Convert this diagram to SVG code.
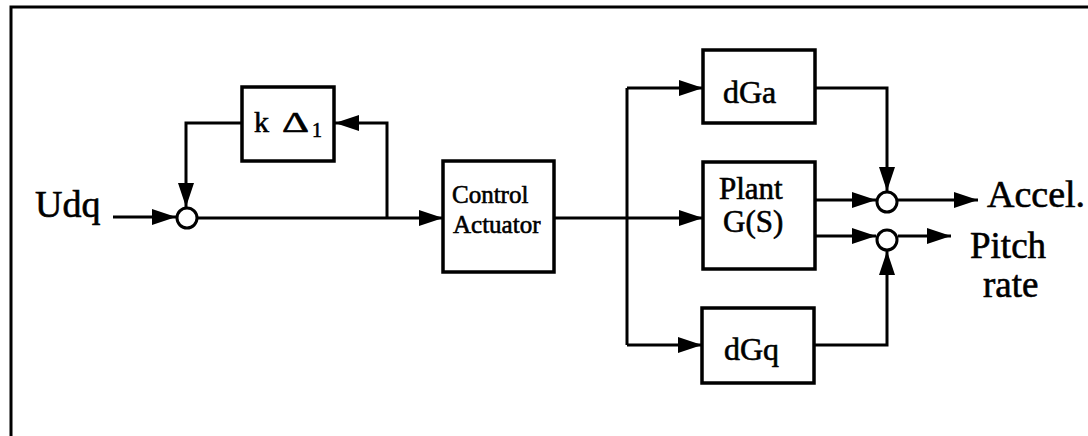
<svg xmlns="http://www.w3.org/2000/svg" width="1088" height="436" viewBox="0 0 1088 436">
  <style>
    .box { fill: #fff; stroke: #000; stroke-width: 3.5; }
    .sum { fill: #fff; stroke: #000; stroke-width: 3; }
    .wire { fill: none; stroke: #000; stroke-width: 3; }
    .lbl { font-family: "Liberation Serif", "Times New Roman", serif; fill: #000; stroke: #000; stroke-width: 0.6; }
  </style>
  <defs>
    <marker id="arrow" markerUnits="userSpaceOnUse" markerWidth="24" markerHeight="16" refX="24" refY="8" orient="auto">
      <path d="M0,0 L24,8 L0,16 z" fill="#000"/>
    </marker>
  </defs>

  <rect width="1088" height="436" fill="#fff"/>

  <!-- outer frame -->
  <path d="M11,436 V7 H1088" fill="none" stroke="#000" stroke-width="3"/>

  <!-- connectors -->
  <g id="connectors" class="wire">
    <path d="M113,217 H176" marker-end="url(#arrow)"/>
    <path d="M198,218 H443" marker-end="url(#arrow)"/>
    <path d="M387,218 V123 H335" marker-end="url(#arrow)"/>
    <path d="M242,123 H186 V207" marker-end="url(#arrow)"/>
    <path d="M554,218 H703" marker-end="url(#arrow)"/>
    <path d="M627,88 V345"/>
    <path d="M627,88 H703" marker-end="url(#arrow)"/>
    <path d="M627,345 H702" marker-end="url(#arrow)"/>
    <path d="M815,200 H876" marker-end="url(#arrow)"/>
    <path d="M815,236 H876" marker-end="url(#arrow)"/>
    <path d="M815,88 H887 V191" marker-end="url(#arrow)"/>
    <path d="M814,345 H887 V251" marker-end="url(#arrow)"/>
    <path d="M898,200 H978" marker-end="url(#arrow)"/>
    <path d="M898,236 H951" marker-end="url(#arrow)"/>
  </g>

  <!-- input label -->
  <g id="input">
    <text class="lbl" x="35" y="217" font-size="38">Udq</text>
  </g>

  <!-- input summing junction -->
  <g id="sum-in">
    <circle class="sum" cx="187" cy="218" r="10"/>
  </g>

  <!-- feedback gain -->
  <g id="k-delta">
    <rect class="box" x="242" y="87" width="92" height="74"/>
    <text class="lbl" x="254" y="132" font-size="30">k</text>
    <text class="lbl" x="282" y="132" font-size="30" textLength="27" lengthAdjust="spacingAndGlyphs">Δ</text>
    <text class="lbl" x="312" y="137" font-size="20">1</text>
  </g>

  <!-- control actuator -->
  <g id="control-actuator">
    <rect class="box" x="443" y="161" width="111" height="111"/>
    <text class="lbl" x="452" y="203" font-size="25" stroke-width="0.4">Control</text>
    <text class="lbl" x="453" y="233" font-size="25" stroke-width="0.4">Actuator</text>
  </g>

  <!-- perturbation on acceleration -->
  <g id="dGa">
    <rect class="box" x="703" y="50" width="112" height="73"/>
    <text class="lbl" x="723" y="103" font-size="32">dGa</text>
  </g>

  <!-- plant -->
  <g id="plant">
    <rect class="box" x="703" y="162" width="112" height="107"/>
    <text class="lbl" x="719" y="199" font-size="31">Plant</text>
    <text class="lbl" x="723" y="232" font-size="31">G(S)</text>
  </g>

  <!-- perturbation on pitch rate -->
  <g id="dGq">
    <rect class="box" x="702" y="308" width="112" height="75"/>
    <text class="lbl" x="724" y="360" font-size="32">dGq</text>
  </g>

  <!-- output summing junctions -->
  <g id="sum-accel">
    <circle class="sum" cx="887" cy="202" r="10"/>
  </g>
  <g id="sum-pitch">
    <circle class="sum" cx="887" cy="240" r="10"/>
  </g>

  <!-- outputs -->
  <g id="out-accel">
    <text class="lbl" x="987" y="207" font-size="38">Accel.</text>
  </g>
  <g id="out-pitch">
    <text class="lbl" x="970" y="258" font-size="37">Pitch</text>
    <text class="lbl" x="983" y="297" font-size="37">rate</text>
  </g>
</svg>
